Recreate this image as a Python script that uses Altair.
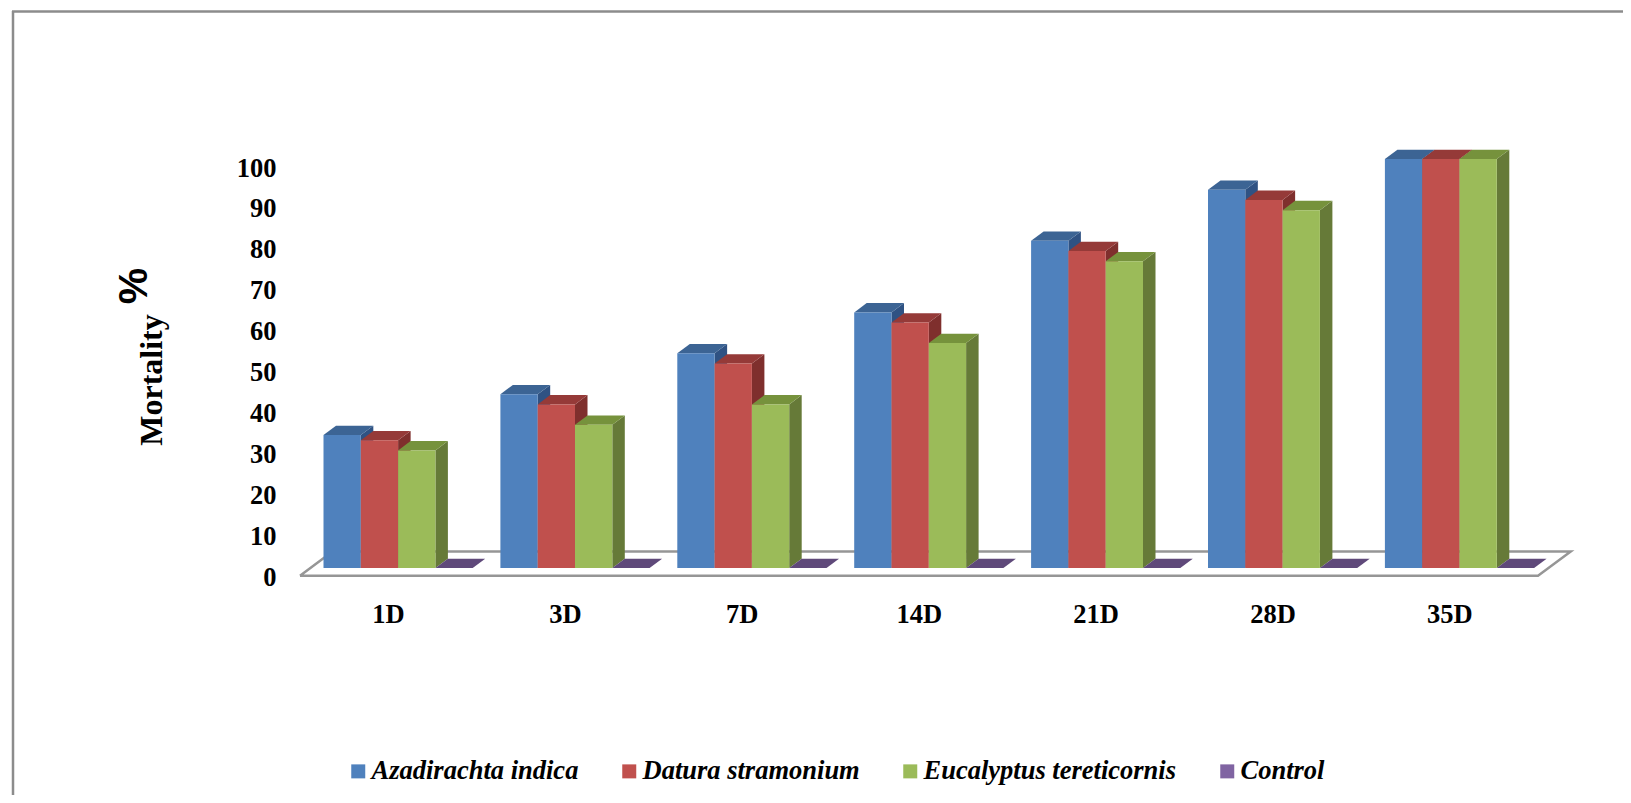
import altair as alt
import pandas as pd

categories = ["1D", "3D", "7D", "14D", "21D", "28D", "35D"]
series = ["Azadirachta indica", "Datura stramonium", "Eucalyptus tereticornis", "Control"]
azadirachta = [32.5, 42.5, 52.5, 62.5, 80, 92.5, 100]
datura = [31.25, 40, 50, 60, 77.5, 90, 100]
eucalyptus = [28.75, 35, 40, 55, 75, 87.5, 100]
control = [0, 0, 0, 0, 0, 0, 0]
values = [azadirachta, datura, eucalyptus, control]

front_colors = ["#4F81BD", "#C0504D", "#9BBB59", "#8064A2"]
top_colors = ["#3C6494", "#953A38", "#76923C", "#5F497A"]
side_colors = ["#2F5283", "#7F2F2D", "#667A38", "#4F3C69"]
tick_values = list(range(0, 101, 10))

FONT = "Liberation Serif"
PX_PER_GROUP = 176.9
PX_PER_UNIT = 4.09
PLOT_L, PLOT_T, PLOT_W, PLOT_H = 300, 159, 1271, 409
BAR = 37.3 / PX_PER_GROUP
DX = 12.5 / PX_PER_GROUP
DY = 9.3 / PX_PER_UNIT
X0 = -23.5 / PX_PER_GROUP
X1 = X0 + PLOT_W / PX_PER_GROUP
LABEL_SHIFT = 64.5 / PX_PER_GROUP

x_scale = alt.Scale(domain=[X0, X1], nice=False, zero=False)
y_scale = alt.Scale(domain=[0, 100], nice=False, zero=False)

label_expr = "[" + ",".join(f"'{c}'" for c in categories) + f"][round(datum.value-{LABEL_SHIFT})]"
x_axis = alt.Axis(
    values=[k + LABEL_SHIFT for k in range(len(categories))],
    labelExpr=label_expr,
    domain=False,
    ticks=False,
    tickSize=0,
    grid=False,
    title=None,
    labelPadding=33,
    labelFont=FONT,
    labelFontSize=26.5,
    labelFontWeight="bold",
    labelColor="black",
)
y_axis = alt.Axis(
    values=tick_values,
    domain=False,
    ticks=False,
    tickSize=0,
    grid=False,
    labelPadding=24,
    labelOffset=9,
    labelFont=FONT,
    labelFontSize=26.5,
    labelFontWeight="bold",
    labelColor="black",
    title="Mortality",
    titleAngle=270,
    titleX=151 - PLOT_L,
    titleY=379.5 - PLOT_T,
    titleAlign="center",
    titleBaseline="middle",
    titleFont=FONT,
    titleFontSize=32,
    titleFontWeight="bold",
    titleColor="black",
)
X_ENC = alt.X("x:Q", scale=x_scale, axis=x_axis)
Y_ENC = alt.Y("y:Q", scale=y_scale, axis=y_axis, stack=None)

front, sides, tops = [], [], []
for s, (name, vals) in enumerate(zip(series, values)):
    for k, v in enumerate(vals):
        xl = k + s * BAR
        xr = xl + BAR
        front.append(dict(series=name, x=xl, x2=xr, y=v, base=0))
        bid = f"{s}-{k}"
        if v > 0:
            sides += [
                dict(s=s, bar=bid, x=xr, y=v, y2=0),
                dict(s=s, bar=bid, x=xr + DX, y=v + DY, y2=DY),
            ]
        tops += [
            dict(s=s, bar=bid, x=xl, y=v, y2=v),
            dict(s=s, bar=bid, x=xl + DX, y=v + DY, y2=v),
            dict(s=s, bar=bid, x=xr, y=v + DY, y2=v),
            dict(s=s, bar=bid, x=xr + DX, y=v + DY, y2=v + DY),
        ]
front, sides, tops = map(pd.DataFrame, (front, sides, tops))

# floor of the 3-D box
fy_front = -7.7 / PX_PER_UNIT
fy_back = 16.4 / PX_PER_UNIT
fx_l = X0
fx_lb = X0 + 32.5 / PX_PER_GROUP
fx_r = X0 + 1238 / PX_PER_GROUP
fx_rb = X0 + 1270.7 / PX_PER_GROUP
floor = pd.DataFrame(
    dict(
        x=[fx_l, fx_r, fx_rb, fx_lb, fx_l],
        y=[fy_front, fy_front, fy_back, fy_back, fy_front],
        o=[0, 1, 2, 3, 4],
    )
)

layers = [
    alt.Chart(floor)
    .mark_line(color="#969696", strokeWidth=2.5, clip=False)
    .encode(x=X_ENC, y=Y_ENC, order="o:Q")
]
for s in range(4):
    if s < 3:
        layers.append(
            alt.Chart(sides[sides.s == s])
            .mark_area(color=side_colors[s], clip=False, opacity=1)
            .encode(x=X_ENC, y=Y_ENC, y2="y2:Q", detail="bar:N")
        )
    layers.append(
        alt.Chart(tops[tops.s == s])
        .mark_area(color=top_colors[s], clip=False, opacity=1)
        .encode(x=X_ENC, y=Y_ENC, y2="y2:Q", detail="bar:N")
    )

bars = (
    alt.Chart(front)
    .mark_bar(clip=False)
    .encode(
        x=X_ENC,
        x2="x2:Q",
        y=Y_ENC,
        y2="base:Q",
        color=alt.Color(
            "series:N",
            scale=alt.Scale(domain=series, range=front_colors),
            legend=alt.Legend(
                title=None,
                orient="none",
                direction="horizontal",
                columns=4,
                padding=0,
                legendX=345 - PLOT_L,
                legendY=758 - PLOT_T,
                symbolType="square",
                symbolSize=196,
                symbolStrokeWidth=0,
                columnPadding=37,
                labelOffset=0,
                gridAlign="each",
                labelFont=FONT,
                labelFontSize=26.5,
                labelFontWeight="bold",
                labelFontStyle="italic",
                labelColor="black",
                labelLimit=400,
            ),
        ),
    )
)
layers.append(bars)

percent = (
    alt.Chart(pd.DataFrame({"t": ["%"]}))
    .mark_text(
        font="Liberation Sans",
        fontSize=41,
        fontWeight="bold",
        angle=270,
        color="black",
        align="center",
        baseline="middle",
    )
    .encode(x=alt.value(135 - PLOT_L), y=alt.value(286 - PLOT_T), text="t:N")
)
layers.append(percent)

# outer frame of the picture (top and left edges only)
frame_top = alt.Chart(pd.DataFrame({"a": [0]})).mark_rule(color="#8C8C8C", strokeWidth=2.5).encode(
    x=alt.value(12 - PLOT_L), x2=alt.value(1631 - PLOT_L), y=alt.value(11.5 - PLOT_T)
)
frame_left = alt.Chart(pd.DataFrame({"a": [0]})).mark_rule(color="#8C8C8C", strokeWidth=2.5).encode(
    x=alt.value(13 - PLOT_L), y=alt.value(11 - PLOT_T), y2=alt.value(803 - PLOT_T)
)
layers += [frame_top, frame_left]

chart = (
    alt.layer(*layers)
    .properties(
        width=PLOT_W,
        height=PLOT_H,
        padding={
            "left": PLOT_L - 8,
            "top": PLOT_T - 8,
            "right": 1615 - (PLOT_L - 8) - PLOT_W,
            "bottom": 787 - (PLOT_T - 8) - PLOT_H,
        },
        autosize=alt.AutoSizeParams(type="none"),
        background="white",
    )
    .configure_view(stroke=None)
)

chart.save("out.html", embed_options={"renderer": "svg", "actions": False})
